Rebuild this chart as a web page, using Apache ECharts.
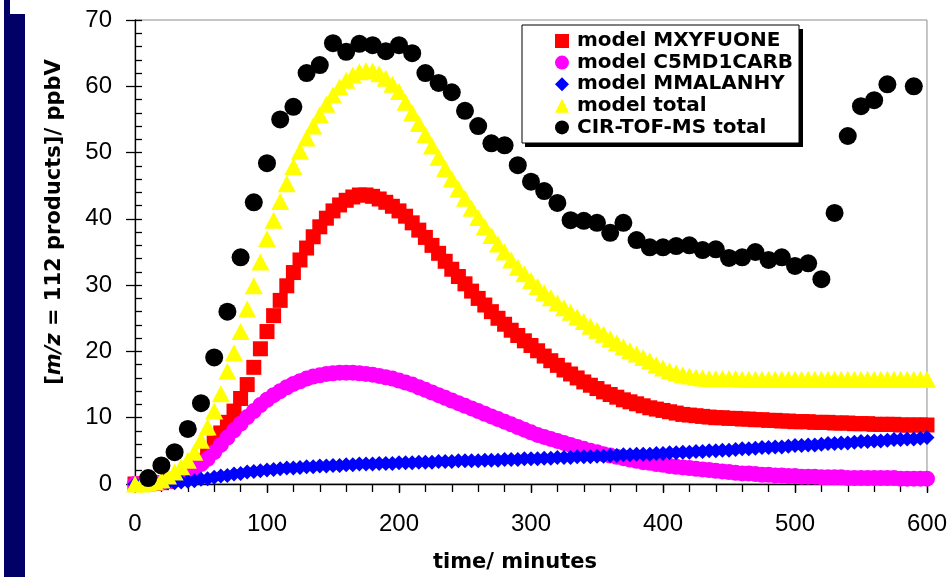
<!DOCTYPE html>
<html>
<head>
<meta charset="utf-8">
<script src="https://cdn.jsdelivr.net/npm/echarts@6/dist/echarts.min.js"></script>
<style>
  html, body { margin: 0; padding: 0; background: #fff; }
  #chart { width: 950px; height: 577px; }
</style>
</head>
<body>
<div id="chart"></div>
<script>
// Model output times (minutes), one point every 5 minutes
const modelTime = [
  0,5,10,15,20,25,30,35,40,45,50,55,60,65,70,75,80,85,90,95,
  100,105,110,115,120,125,130,135,140,145,150,155,160,165,170,175,180,185,190,195,
  200,205,210,215,220,225,230,235,240,245,250,255,260,265,270,275,280,285,290,295,
  300,305,310,315,320,325,330,335,340,345,350,355,360,365,370,375,380,385,390,395,
  400,405,410,415,420,425,430,435,440,445,450,455,460,465,470,475,480,485,490,495,
  500,505,510,515,520,525,530,535,540,545,550,555,560,565,570,575,580,585,590,595,
  600
];

// model MXYFUONE (ppbV)
const mxyfuone = [
  0.0,0.0,0.0,0.1,0.2,0.4,0.7,1.1,1.7,2.5,3.5,4.8,6.2,7.7,9.3,11.0,12.9,15.0,17.6,20.4,
  23.0,25.4,27.7,29.9,31.9,33.8,35.6,37.3,38.8,40.1,41.2,42.1,42.8,43.3,43.6,43.6,43.4,43.0,42.5,41.9,
  41.2,40.4,39.4,38.3,37.2,36.0,34.8,33.6,32.4,31.3,30.2,29.1,28.0,27.0,26.0,25.0,24.1,23.2,22.4,21.6,
  20.9,20.1,19.3,18.6,17.9,17.2,16.6,16.0,15.4,14.9,14.4,13.9,13.5,13.1,12.7,12.4,12.1,11.8,11.5,11.3,
  11.1,10.9,10.7,10.5,10.4,10.3,10.2,10.1,10.0,10.0,9.9,9.9,9.8,9.8,9.7,9.7,9.6,9.6,9.5,9.5,
  9.4,9.4,9.4,9.3,9.3,9.3,9.2,9.2,9.2,9.1,9.1,9.1,9.0,9.0,9.0,9.0,8.9,8.9,8.9,8.9,
  8.9
];

// model C5MD1CARB (ppbV)
const c5md1carb = [
  0.0,0.0,0.1,0.1,0.2,0.4,0.7,1.1,1.6,2.3,3.0,3.8,4.8,5.9,7.0,8.1,9.1,10.1,11.0,11.9,
  12.7,13.4,14.0,14.6,15.1,15.5,15.9,16.2,16.4,16.6,16.7,16.8,16.8,16.8,16.7,16.6,16.5,16.3,16.1,15.9,
  15.6,15.3,15.0,14.6,14.2,13.8,13.4,13.0,12.6,12.2,11.8,11.4,11.0,10.6,10.2,9.8,9.4,9.0,8.6,8.2,
  7.8,7.4,7.1,6.8,6.5,6.2,5.9,5.6,5.3,5.0,4.8,4.5,4.3,4.1,3.9,3.7,3.5,3.3,3.2,3.0,
  2.9,2.7,2.6,2.5,2.4,2.3,2.2,2.1,2.0,1.9,1.8,1.7,1.6,1.6,1.5,1.4,1.4,1.3,1.3,1.2,
  1.2,1.1,1.1,1.1,1.0,1.0,1.0,1.0,0.9,0.9,0.9,0.9,0.9,0.9,0.9,0.9,0.8,0.8,0.8,0.8,
  0.8
];

// model MMALANHY (ppbV)
const mmalanhy = [
  0.0,0.0,0.0,0.1,0.1,0.2,0.2,0.3,0.4,0.5,0.7,0.8,1.0,1.2,1.3,1.5,1.6,1.8,1.9,2.0,
  2.1,2.2,2.3,2.4,2.4,2.5,2.6,2.6,2.7,2.7,2.8,2.8,2.9,2.9,3.0,3.0,3.0,3.1,3.1,3.1,
  3.2,3.2,3.2,3.3,3.3,3.3,3.4,3.4,3.4,3.5,3.5,3.5,3.5,3.6,3.6,3.6,3.7,3.7,3.7,3.8,
  3.8,3.8,3.9,3.9,4.0,4.0,4.0,4.1,4.1,4.1,4.2,4.2,4.3,4.3,4.4,4.4,4.5,4.5,4.5,4.6,
  4.6,4.7,4.7,4.8,4.8,4.9,4.9,5.0,5.0,5.1,5.1,5.2,5.3,5.3,5.4,5.5,5.5,5.6,5.6,5.7,
  5.8,5.8,5.9,5.9,6.0,6.1,6.1,6.2,6.2,6.3,6.4,6.4,6.5,6.5,6.6,6.7,6.7,6.8,6.8,6.9,
  7.0
];

// model total (ppbV)
const modelTotal = [
  0.0,0.0,0.1,0.3,0.6,1.2,1.8,2.6,3.6,4.8,6.6,8.6,11.0,13.6,17.0,19.8,23.0,26.4,29.9,33.5,
  37.0,39.8,42.6,45.3,47.9,50.2,52.2,54.0,55.7,57.3,58.7,59.9,60.9,61.7,62.2,62.4,62.3,61.9,61.2,60.3,
  59.2,57.6,56.0,54.4,52.7,51.0,49.3,47.6,46.0,44.5,43.1,41.6,40.2,38.8,37.5,36.2,35.0,33.8,32.7,31.7,
  30.7,29.8,28.9,28.1,27.3,26.6,25.9,25.2,24.5,23.8,23.2,22.6,21.9,21.3,20.7,20.1,19.6,19.1,18.6,18.0,
  17.5,17.1,16.8,16.5,16.3,16.1,16.0,15.9,15.9,15.9,15.9,15.9,15.8,15.8,15.8,15.8,15.8,15.8,15.8,15.8,
  15.8,15.8,15.8,15.8,15.8,15.8,15.8,15.8,15.8,15.8,15.8,15.8,15.8,15.8,15.8,15.8,15.8,15.8,15.8,15.8,
  15.8
];

// CIR-TOF-MS measurements: time (minutes) and total (ppbV)
const measTime = [
  10,20,30,40,50,60,70,80,90,100,110,120,130,140,150,160,170,180,190,200,
  210,220,230,240,250,260,270,280,290,300,310,320,330,340,350,360,370,380,390,400,
  410,420,430,440,450,460,470,480,490,500,510,520,530,540,550,560,570,590
];
const measTotal = [
  0.9,2.8,4.8,8.3,12.2,19.1,26.0,34.2,42.5,48.4,55.0,56.9,62.0,63.2,66.5,65.2,66.4,66.2,65.3,66.2,
  65.0,62.0,60.5,59.1,56.3,54.0,51.4,51.1,48.1,45.6,44.2,42.4,39.8,39.7,39.4,37.9,39.4,36.8,35.7,35.7,
  35.9,36.0,35.3,35.4,34.1,34.2,35.0,33.8,34.2,32.9,33.3,30.9,40.9,52.5,57.0,57.9,60.3,60.0
];

// Axis ticks
const xTicks = [0, 100, 200, 300, 400, 500, 600];
const yTicks = [0, 10, 20, 30, 40, 50, 60, 70];

const seriesNames = ['model MXYFUONE', 'model C5MD1CARB', 'model MMALANHY', 'model total', 'CIR-TOF-MS total'];

function pairs(xs, ys) { return xs.map((x, i) => [x, ys[i]]); }

const FONT = '"Liberation Sans", Arial, sans-serif';
const BOLD_FONT = '"DejaVu Sans", "Liberation Sans", Arial, sans-serif';
const chart = echarts.init(document.getElementById('chart'), null, { renderer: 'canvas' });

const baseX = { type: 'value', min: xTicks[0], max: xTicks[xTicks.length - 1], gridIndex: 0 };
const baseY = { type: 'value', min: yTicks[0], max: yTicks[yTicks.length - 1], gridIndex: 0 };

chart.setOption({
  animation: false,
  backgroundColor: '#ffffff',
  grid: {
    left: 135, right: 17, top: 20, bottom: 93,
    show: true, borderColor: '#8c8c8c', borderWidth: 1, backgroundColor: 'transparent'
  },
  xAxis: [
    Object.assign({}, baseX, {
      interval: 100,
      axisLine: { show: true, onZero: false, lineStyle: { color: '#000', width: 1.3 } },
      axisTick: { show: true, inside: false, length: 9, lineStyle: { color: '#000', width: 1.3 } },
      axisLabel: { color: '#000', fontSize: 24, fontFamily: FONT, margin: 28 },
      splitLine: { show: false }
    }),
    Object.assign({}, baseX, {
      interval: 20,
      axisLine: { show: false },
      axisTick: { show: true, inside: true, length: 8, lineStyle: { color: '#000', width: 1.3 } },
      axisLabel: { show: false },
      splitLine: { show: false }
    })
  ],
  yAxis: [
    Object.assign({}, baseY, {
      interval: 10,
      position: 'left',
      axisLine: { show: true, onZero: false, lineStyle: { color: '#000', width: 1.3 } },
      axisTick: { show: true, inside: false, length: 9, lineStyle: { color: '#000', width: 1.3 } },
      axisLabel: { color: '#000', fontSize: 24, fontFamily: FONT, margin: 23 },
      splitLine: { show: false }
    }),
    Object.assign({}, baseY, {
      interval: 2,
      position: 'left',
      axisLine: { show: false },
      axisTick: { show: true, inside: true, length: 7, lineStyle: { color: '#000', width: 1.3 } },
      axisLabel: { show: false },
      splitLine: { show: false }
    })
  ],
  legend: {
    orient: 'vertical',
    left: 555, top: 31,
    padding: 0,
    itemWidth: 14, itemHeight: 14, itemGap: 1.6,
    z: 10,
    selectedMode: false,
    data: seriesNames,
    textStyle: {
      color: '#000', fontSize: 20, fontWeight: 'bold', fontFamily: BOLD_FONT,
      padding: [0, 0, 0, 3]
    }
  },
  graphic: [
    // navy side strip
    { type: 'rect', shape: { x: 4, y: 0, width: 6, height: 577 }, style: { fill: '#000066' }, z: 1 },
    { type: 'rect', shape: { x: 10, y: 14, width: 15, height: 563 }, style: { fill: '#000066' }, z: 1 },
    // legend box with drop shadow
    { type: 'rect', shape: { x: 525, y: 29, width: 278, height: 118 }, style: { fill: '#000' }, z: 5 },
    { type: 'rect', shape: { x: 522, y: 25, width: 277, height: 118 }, style: { fill: '#fff', stroke: '#000', lineWidth: 1 }, z: 6 },
    // axis titles
    {
      type: 'text', x: 55, y: 222, rotation: Math.PI / 2, z: 5,
      style: {
        text: '{n|[}{i|m/z}{n| = 112 products]/ ppbV}',
        align: 'center', verticalAlign: 'middle',
        rich: {
          n: { fontSize: 21, fontWeight: 'bold', fontFamily: BOLD_FONT, fill: '#000' },
          i: { fontSize: 21, fontWeight: 'bold', fontStyle: 'italic', fontFamily: BOLD_FONT, fill: '#000' }
        }
      }
    },
    {
      type: 'text', x: 515, y: 563, z: 5,
      style: {
        text: 'time/ minutes', align: 'center', verticalAlign: 'middle',
        fontSize: 21, fontWeight: 'bold', fontFamily: BOLD_FONT, fill: '#000'
      }
    }
  ],
  series: [
    {
      name: seriesNames[0], type: 'scatter', symbol: 'rect', symbolSize: 15,
      itemStyle: { color: '#ff0000', opacity: 1 }, clip: false, silent: true,
      emphasis: { disabled: true }, data: pairs(modelTime, mxyfuone), z: 2
    },
    {
      name: seriesNames[1], type: 'scatter', symbol: 'circle', symbolSize: 16,
      itemStyle: { color: '#ff00ff', opacity: 1 }, clip: false, silent: true,
      emphasis: { disabled: true }, data: pairs(modelTime, c5md1carb), z: 2
    },
    {
      name: seriesNames[2], type: 'scatter', symbol: 'diamond', symbolSize: 15,
      itemStyle: { color: '#0000ff', opacity: 1 }, clip: false, silent: true,
      emphasis: { disabled: true }, data: pairs(modelTime, mmalanhy), z: 2
    },
    {
      name: seriesNames[3], type: 'scatter', symbol: 'triangle', symbolSize: [18, 17],
      itemStyle: { color: '#ffff00', opacity: 1 }, clip: false, silent: true,
      emphasis: { disabled: true }, data: pairs(modelTime, modelTotal), z: 2
    },
    {
      name: seriesNames[4], type: 'scatter', symbol: 'circle', symbolSize: 18,
      itemStyle: { color: '#000000', opacity: 1 }, clip: false, silent: true,
      emphasis: { disabled: true }, data: pairs(measTime, measTotal), z: 2
    }
  ]
});
</script>
</body>
</html>
